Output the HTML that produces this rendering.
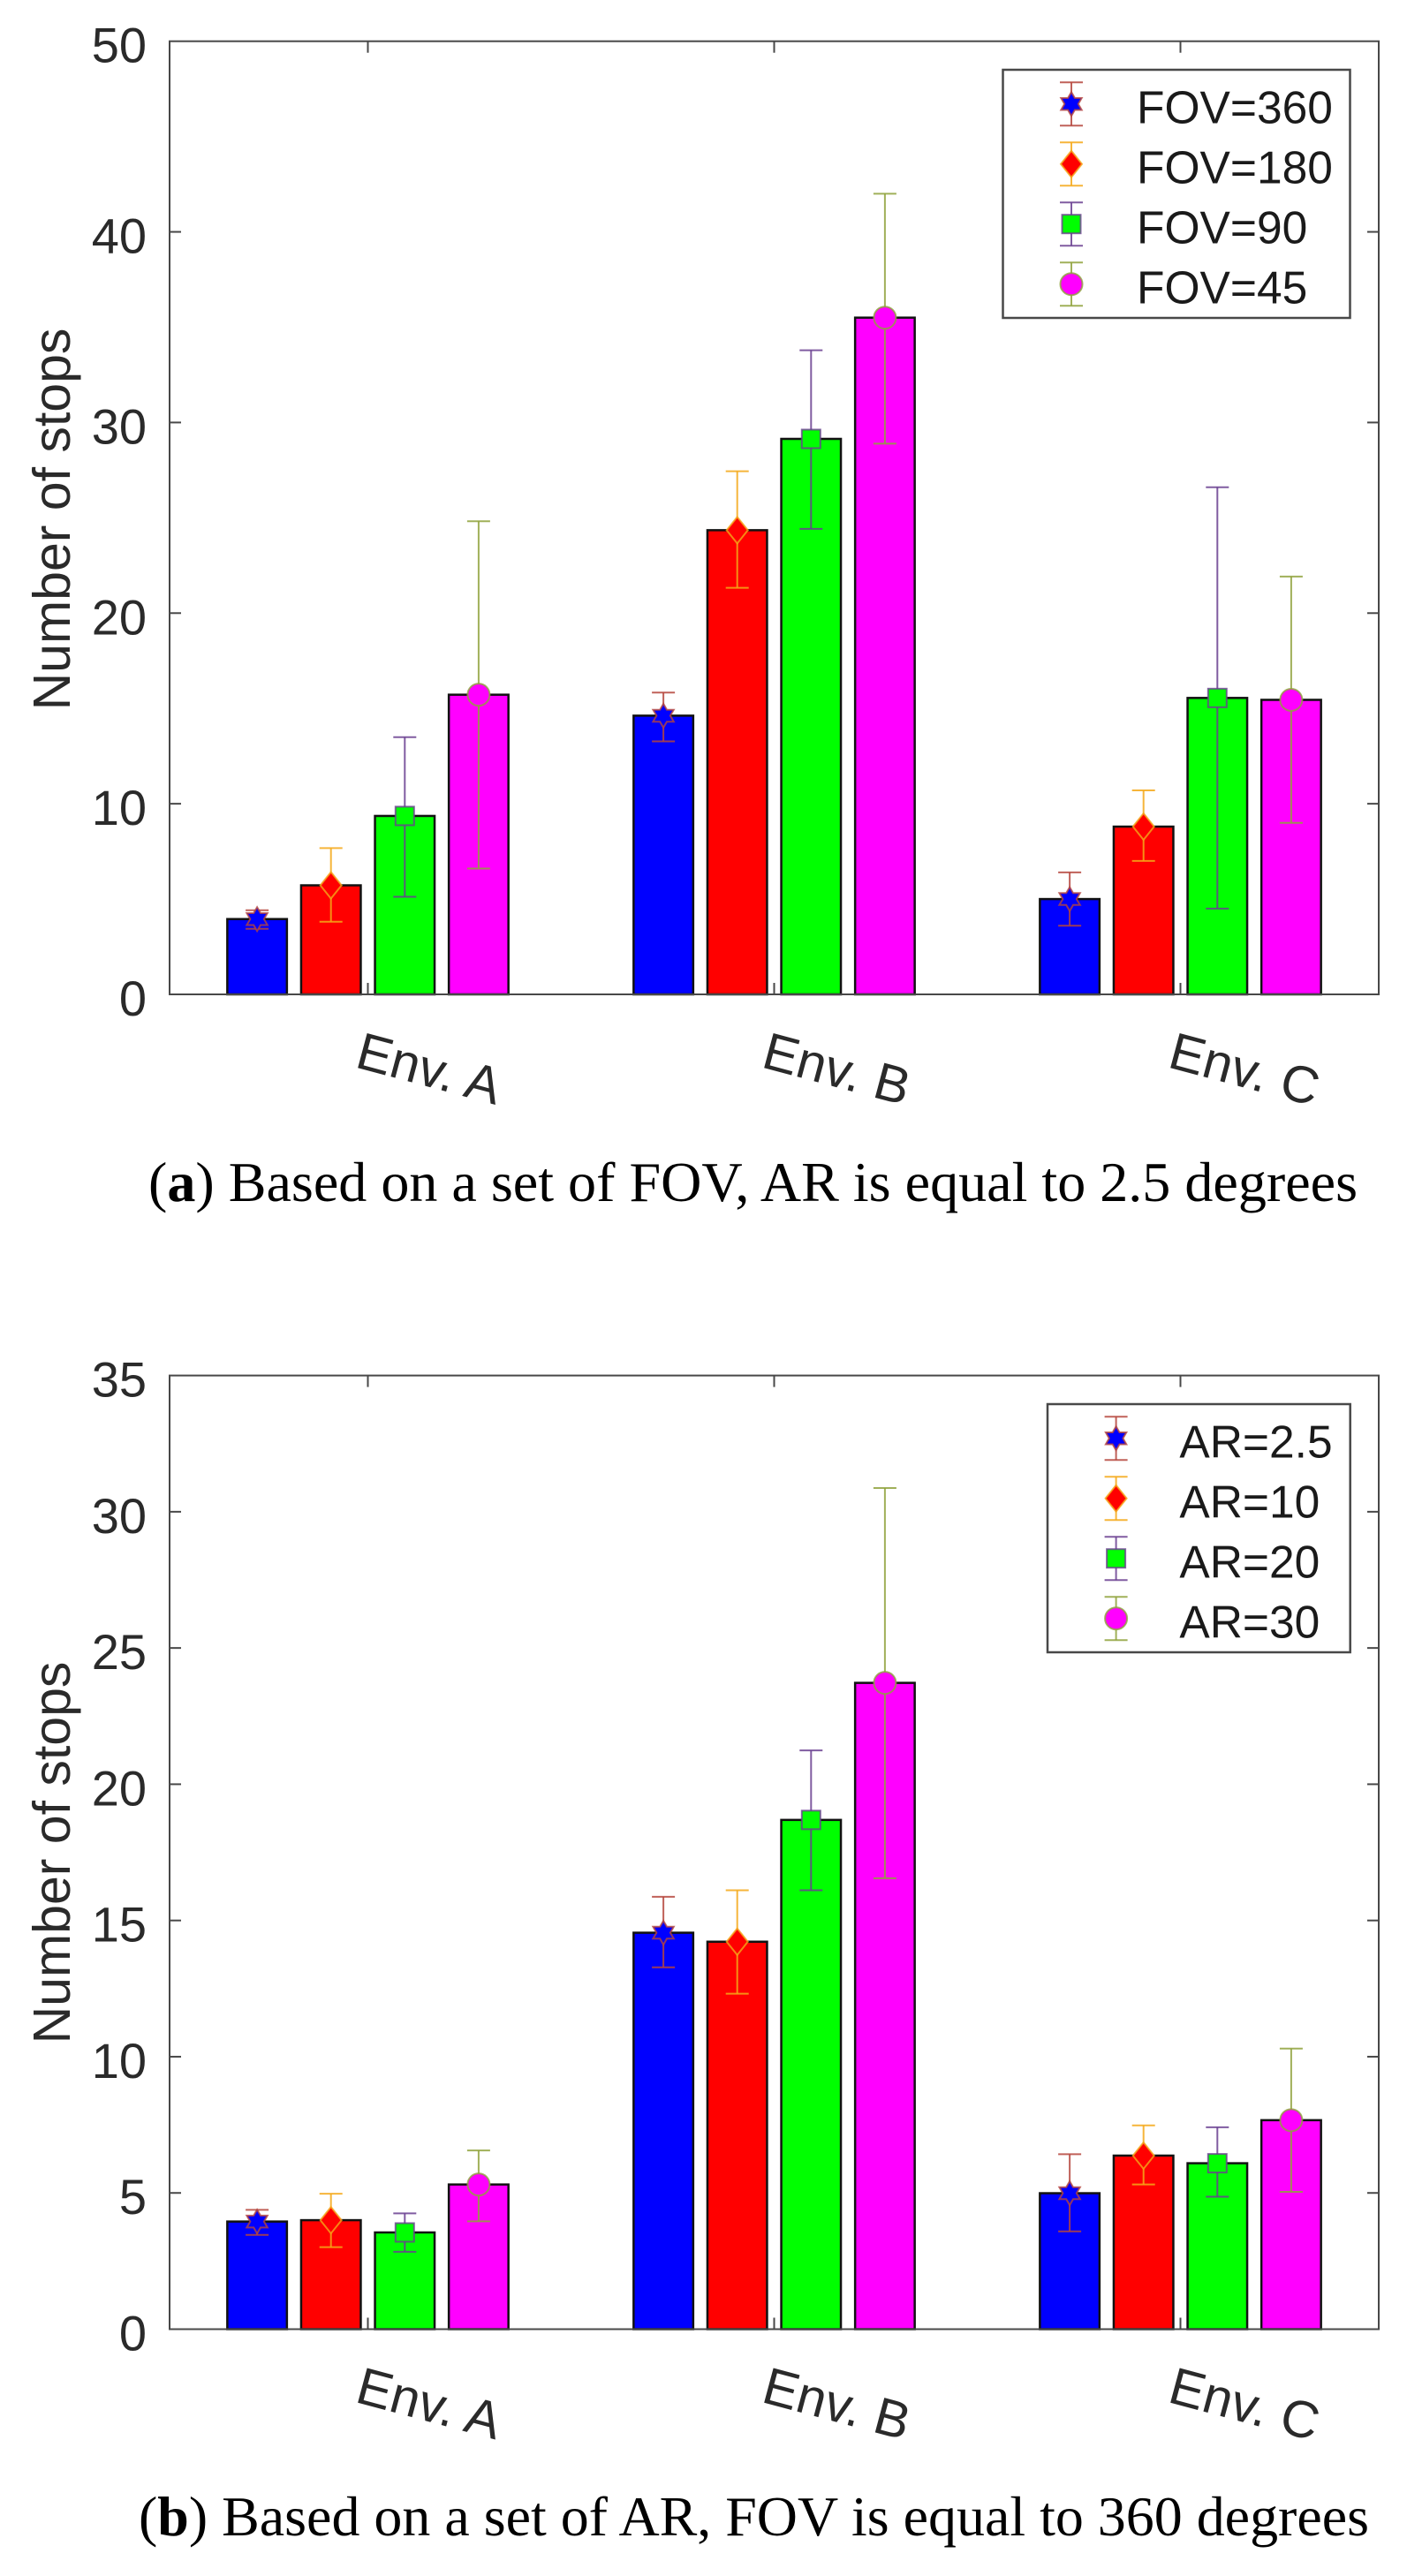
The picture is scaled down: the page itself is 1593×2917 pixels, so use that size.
<!DOCTYPE html>
<html lang="en">
<head>
<meta charset="utf-8">
<title>Number of stops by environment</title>
<style>
  html, body { margin: 0; padding: 0; background: #fff; }
  svg { display: block; }
  text { font-family: "Liberation Sans", sans-serif; }
  .cap { font-family: "Liberation Serif", serif; font-size: 63px; fill: #000; }
</style>
</head>
<body>
<svg id="figure" xmlns="http://www.w3.org/2000/svg" width="1593" height="2917" viewBox="0 0 1593 2917">
  <rect x="0" y="0" width="1593" height="2917" fill="#fff"></rect>
  <g id="chart-a"></g>
  <g id="chart-b"></g>
  <text class="cap" x="168" y="1360" textLength="1369" lengthAdjust="spacingAndGlyphs">(<tspan font-weight="bold">a</tspan>) Based on a set of FOV, AR is equal to 2.5 degrees</text>
  <text class="cap" x="157" y="2871" textLength="1393" lengthAdjust="spacingAndGlyphs">(<tspan font-weight="bold">b</tspan>) Based on a set of AR, FOV is equal to 360 degrees</text>
</svg>
<script>
// Shared categories
const categories = ['Env. A', 'Env. B', 'Env. C'];

// Chart A: tick labels and legend
const ticksA = [0, 10, 20, 30, 40, 50];
const legendA = ['FOV=360', 'FOV=180', 'FOV=90', 'FOV=45'];
// Chart A: series values and error limits
const fov360Values = [3.95, 14.62, 5.0];
const fov360Low = [3.44, 13.27, 3.6];
const fov360High = [4.41, 15.83, 6.4];
const fov180Values = [5.72, 24.35, 8.8];
const fov180Low = [3.81, 21.33, 7.0];
const fov180High = [7.67, 27.44, 10.7];
const fov90Values = [9.36, 29.14, 15.55];
const fov90Low = [5.12, 24.42, 4.5];
const fov90High = [13.49, 33.79, 26.6];
const fov45Values = [15.72, 35.5, 15.45];
const fov45Low = [6.6, 28.89, 9.0];
const fov45High = [24.82, 42.0, 21.92];

// Chart B: tick labels and legend
const ticksB = [0, 5, 10, 15, 20, 25, 30, 35];
const legendB = ['AR=2.5', 'AR=10', 'AR=20', 'AR=30'];
// Chart B: series values and error limits
const ar2Values = [3.95, 14.55, 4.99];
const ar2Low = [3.46, 13.28, 3.59];
const ar2High = [4.38, 15.87, 6.42];
const ar10Values = [4.0, 14.22, 6.37];
const ar10Low = [3.01, 12.31, 5.31];
const ar10High = [4.97, 16.11, 7.48];
const ar20Values = [3.55, 18.69, 6.09];
const ar20Low = [2.84, 16.11, 4.86];
const ar20High = [4.25, 21.24, 7.41];
const ar30Values = [5.31, 23.72, 7.67];
const ar30Low = [3.96, 16.55, 5.04];
const ar30High = [6.56, 30.87, 10.3];

const NS = 'http://www.w3.org/2000/svg';
const styles = [
  { key: 'star', fill: '#0000ff', err: '#b5453c' },
  { key: 'diamond', fill: '#ff0000', err: '#f5a818' },
  { key: 'square', fill: '#00ff00', err: '#6a3f90' },
  { key: 'circle', fill: '#ff00ff', err: '#8fa23c' }
];
const AXIS = '#484848';
const TEXT = '#2a2a2a';
const LEFT = 192, RIGHT = 1561;
const GROUP0 = 416.5, GROUP_STEP = 460, BAR_STEP = 83.6, BAR_W = 67.5, CAP = 13;

function make(tag, attrs, parent, text) {
  const el = document.createElementNS(NS, tag);
  for (const k in attrs) el.setAttribute(k, attrs[k]);
  if (text !== undefined) el.textContent = text;
  parent.appendChild(el);
  return el;
}

function drawMarker(parent, kind, cx, cy, fill, edge) {
  const common = { fill: fill, stroke: edge, 'stroke-width': 2, 'stroke-opacity': 0.8 };
  let el;
  if (kind === 'star') {
    const R = 13.5, r = R / Math.sqrt(3), pts = [];
    for (let i = 0; i < 12; i++) {
      const a = -Math.PI / 2 + i * Math.PI / 6;
      const d = i % 2 ? r : R;
      pts.push((cx + d * Math.cos(a)).toFixed(1) + ',' + (cy + d * Math.sin(a)).toFixed(1));
    }
    el = make('polygon', Object.assign({ points: pts.join(' ') }, common), parent);
  } else if (kind === 'diamond') {
    const pts = [[cx, cy - 15], [cx + 12, cy], [cx, cy + 15], [cx - 12, cy]];
    el = make('polygon', Object.assign({ points: pts.map(p => p.join(',')).join(' ') }, common), parent);
  } else if (kind === 'square') {
    el = make('rect', Object.assign({ x: cx - 10.5, y: cy - 10.5, width: 21, height: 21 }, common), parent);
  } else {
    el = make('ellipse', Object.assign({ cx: cx, cy: cy, rx: 12.5, ry: 12.5 }, common), parent);
  }
  return el;
}

function drawErrorBar(parent, cx, yLow, yHigh, color) {
  const g = make('g', { stroke: color, 'stroke-width': 2, 'stroke-opacity': 0.85, fill: 'none' }, parent);
  make('line', { x1: cx, x2: cx, y1: yLow, y2: yHigh }, g);
  make('line', { x1: cx - CAP, x2: cx + CAP, y1: yLow, y2: yLow }, g);
  make('line', { x1: cx - CAP, x2: cx + CAP, y1: yHigh, y2: yHigh }, g);
  return g;
}

function drawChart(root, cfg) {
  const yScale = v => cfg.bottom - (v / cfg.yMax) * (cfg.bottom - cfg.top);
  const groupX = i => GROUP0 + GROUP_STEP * i;
  const seriesX = (i, s) => groupX(i) + (s - 1.5) * BAR_STEP;

  // Y ticks and labels
  cfg.ticks.forEach(t => {
    const y = yScale(t);
    if (t > 0 && t < cfg.yMax) {
      const l1 = make('line', { x1: LEFT, x2: LEFT + 13, y1: y, y2: y, stroke: AXIS, 'stroke-width': 2 }, root);
      
      
      const l2 = make('line', { x1: RIGHT - 13, x2: RIGHT, y1: y, y2: y, stroke: AXIS, 'stroke-width': 2 }, root);
      
      
    }
    const label = make('text', { x: 166, y: y + 24, 'text-anchor': 'end', 'font-size': 56, fill: TEXT }, root, String(t));
    
    
  });

  // Y axis title
  const title = make('text', {
    transform: 'translate(79 ' + cfg.titleY + ') rotate(-90)',
    'text-anchor': 'middle', 'font-size': 59, fill: TEXT
  }, root, 'Number of stops');
  
  

  // Bars
  cfg.series.forEach((series, s) => {
    series.values.forEach((v, i) => {
      const y = yScale(v);
      const bar = make('rect', {
        x: seriesX(i, s) - BAR_W / 2, y: y, width: BAR_W, height: cfg.bottom - y,
        fill: styles[s].fill, stroke: '#111', 'stroke-width': 2.5
      }, root);
      
      
    });
  });

  // Error bars + markers
  cfg.series.forEach((series, s) => {
    series.values.forEach((v, i) => {
      const cx = seriesX(i, s);
      const eb = drawErrorBar(root, cx, yScale(series.low[i]), yScale(series.high[i]), styles[s].err);
      
      
      const mk = drawMarker(root, styles[s].key, cx, yScale(v), styles[s].fill, styles[s].err);
      
      
    });
  });

  // X ticks and category labels
  categories.forEach((c, i) => {
    const x = groupX(i);
    const tb = make('line', { x1: x, x2: x, y1: cfg.bottom - 13, y2: cfg.bottom, stroke: AXIS, 'stroke-width': 2 }, root);
    
    
    const tt = make('line', { x1: x, x2: x, y1: cfg.top, y2: cfg.top + 13, stroke: AXIS, 'stroke-width': 2 }, root);
    
    
    const lab = make('text', {
      transform: 'translate(' + (x - 16) + ' ' + (cfg.bottom + 82) + ') rotate(15)',
      'font-size': 59, fill: TEXT
    }, root, c);
    
    
  });

  // Frame
  const frame = make('rect', {
    x: LEFT, y: cfg.top, width: RIGHT - LEFT, height: cfg.bottom - cfg.top,
    fill: 'none', stroke: AXIS, 'stroke-width': 2
  }, root);
  
  

  // Legend
  const lg = make('g', {}, root);
  
  
  const box = make('rect', {
    x: cfg.legend.x, y: cfg.legend.y, width: cfg.legend.w, height: cfg.legend.h,
    fill: '#fff', stroke: AXIS, 'stroke-width': 2.5
  }, lg);
  
  
  cfg.legend.labels.forEach((text, r) => {
    const entry = make('g', {}, lg);
    
    
    const cy = cfg.legend.y + 38.7 + r * 68;
    const eb = drawErrorBar(entry, cfg.legend.mx, cy + 24.5, cy - 24.5, styles[r].err);
    
    
    const mk = drawMarker(entry, styles[r].key, cfg.legend.mx, cy, styles[r].fill, styles[r].err);
    
    
    const t = make('text', { x: cfg.legend.tx - 2, y: cy + 22, 'font-size': 51.5, fill: '#1a1a1a' }, entry, text);
    
    
  });
}

drawChart(document.getElementById('chart-a'), {
  top: 46.7, bottom: 1126, yMax: 50, ticks: ticksA, titleY: 588,
  series: [
    { name: 'fov360', values: fov360Values, low: fov360Low, high: fov360High },
    { name: 'fov180', values: fov180Values, low: fov180Low, high: fov180High },
    { name: 'fov90', values: fov90Values, low: fov90Low, high: fov90High },
    { name: 'fov45', values: fov45Values, low: fov45Low, high: fov45High }
  ],
  legend: { x: 1135.5, y: 79, w: 393, h: 281, mx: 1213, tx: 1289, labels: legendA }
});

drawChart(document.getElementById('chart-b'), {
  top: 1557.6, bottom: 2637.5, yMax: 35, ticks: ticksB, titleY: 2098,
  series: [
    { name: 'ar2-5', values: ar2Values, low: ar2Low, high: ar2High },
    { name: 'ar10', values: ar10Values, low: ar10Low, high: ar10High },
    { name: 'ar20', values: ar20Values, low: ar20Low, high: ar20High },
    { name: 'ar30', values: ar30Values, low: ar30Low, high: ar30High }
  ],
  legend: { x: 1186, y: 1590, w: 342.7, h: 281, mx: 1263.6, tx: 1337.4, labels: legendB }
});
</script>
</body>
</html>
